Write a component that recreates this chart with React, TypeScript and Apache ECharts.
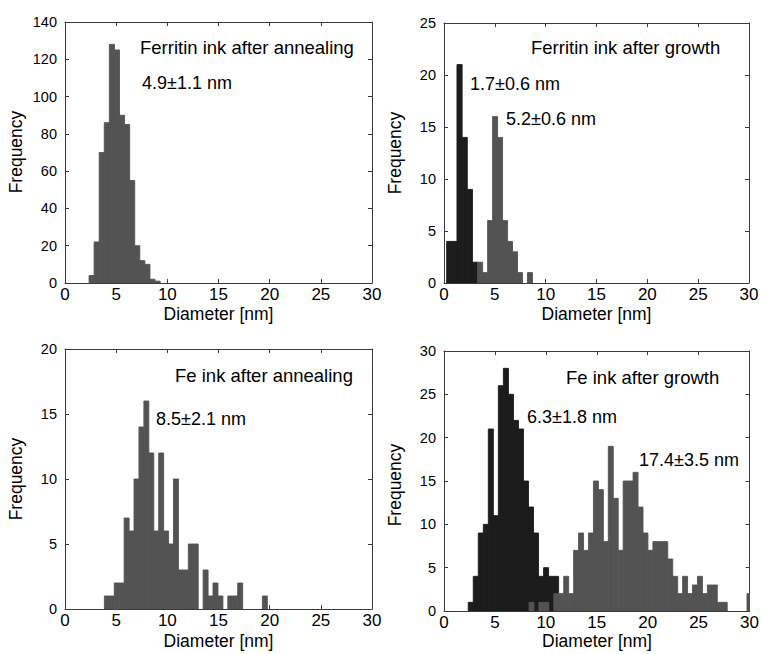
import React, { useEffect, useRef } from "react";
import * as echarts from "echarts";

// ---------- data ----------
const X_TICKS_MAX = 30;
const X_TICK_STEP = 5;

// Panel A: Ferritin ink after annealing (histogram, bin start / width / counts)
const A_START = 2.35;
const A_WIDTH = 0.496;
const A_COUNTS = [4, 22, 70, 86, 128, 125, 90, 85, 55, 20, 12, 10, 2, 1];

// Panel B: Ferritin ink after growth
const B1_START = 0.26;
const B1_WIDTH = 0.508;
const B1_COUNTS = [4, 4, 21, 14, 9, 2];
const B2_START = 3.31;
const B2_WIDTH = 0.49;
const B2_COUNTS = [2, 1, 6, 16, 14, 6, 4, 3, 1, 0, 1];

// Panel C: Fe ink after annealing
const C_START = 3.85;
const C_WIDTH = 0.4825;
const C_COUNTS = [1, 1, 2, 2, 7, 6, 10, 14, 16, 12, 6, 12, 6, 5, 10, 3, 3, 5, 5, 0, 3, 1, 2, 1, 0, 1, 1, 2, 0, 0, 0, 0, 1];

// Panel D: Fe ink after growth
const D1_START = 2.38;
const D1_WIDTH = 0.493;
const D1_COUNTS = [1, 4, 9, 10, 21, 11, 26, 28, 25, 22, 21, 15, 12, 9, 4, 5, 4, 4];
const D2_START = 8.35;
const D2_WIDTH = 0.4864;
const D2_COUNTS = [
  1, 0, 1, 1, 0, 2, 2, 4, 2, 7, 9, 7, 9, 15, 14, 8, 19, 13, 7, 15, 15, 16, 12, 9, 7,
  8, 8, 8, 6, 4, 2, 4, 2, 3, 4, 2, 3, 3, 1, 1, 0, 0, 0, 0, 2,
];

const Y_MAX = [140, 25, 20, 30];
const Y_STEP = [20, 5, 5, 5];

const TITLES = [
  "Ferritin ink after annealing",
  "Ferritin ink after growth",
  "Fe ink after annealing",
  "Fe ink after growth",
];
const STATS = ["4.9±1.1 nm", "1.7±0.6 nm", "5.2±0.6 nm", "8.5±2.1 nm", "6.3±1.8 nm", "17.4±3.5 nm"];
const X_NAME = "Diameter [nm]";
const Y_NAME = "Frequency";

// ---------- layout ----------
const FONT = "'Liberation Sans', Arial, sans-serif";
const GRIDS = [
  { left: 65, top: 22, width: 307, height: 261 },
  { left: 444, top: 23, width: 305, height: 260 },
  { left: 65, top: 349, width: 307, height: 260 },
  { left: 444, top: 351, width: 306, height: 260 },
];
const GRAY = "#535353";
const DARK = "#1c1c1c";
const FRAME = "#3a3a3a";

function bins(start: number, width: number, counts: number[]) {
  const out: number[][] = [];
  counts.forEach((c, i) => {
    if (c > 0) out.push([start + i * width, start + (i + 1) * width, c]);
  });
  return out;
}

function histSeries(idx: number, data: number[][], color: string) {
  return {
    type: "custom",
    xAxisIndex: idx * 2,
    yAxisIndex: idx * 2,
    data,
    encode: { x: [0, 1], y: 2 },
    clip: true,
    renderItem: (params: any, api: any) => {
      const p0 = api.coord([api.value(0), api.value(2)]);
      const p1 = api.coord([api.value(1), 0]);
      const cs = params.coordSys;
      const shape = echarts.graphic.clipRectByRect(
        { x: p0[0], y: p0[1], width: p1[0] - p0[0], height: p1[1] - p0[1] },
        { x: cs.x, y: cs.y, width: cs.width, height: cs.height }
      );
      if (!shape) return null;
      return {
        type: "rect",
        shape,
        style: { fill: color, stroke: color, lineWidth: 0.9 },
      };
    },
  };
}

export default function App() {
  const ref = useRef<HTMLDivElement>(null);

  useEffect(() => {
    if (!ref.current) return;
    const chart = echarts.init(ref.current, undefined, { renderer: "svg" });

    const xAxes: any[] = [];
    const yAxes: any[] = [];
    GRIDS.forEach((_, i) => {
      const line = { show: true, onZero: false, lineStyle: { color: FRAME, width: 1 } };
      const tick = { show: true, inside: true, length: 4, lineStyle: { color: FRAME, width: 1 } };
      xAxes.push({
        gridIndex: i, type: "value", min: 0, max: X_TICKS_MAX, interval: X_TICK_STEP, position: "bottom",
        axisLine: line, axisTick: tick, splitLine: { show: false },
        axisLabel: { fontSize: 17, color: "#000", margin: 3, fontFamily: FONT },
      });
      xAxes.push({
        gridIndex: i, type: "value", min: 0, max: X_TICKS_MAX, interval: X_TICK_STEP, position: "top",
        axisLine: line, axisTick: tick, splitLine: { show: false }, axisLabel: { show: false },
      });
      yAxes.push({
        gridIndex: i, type: "value", min: 0, max: Y_MAX[i], interval: Y_STEP[i], position: "left",
        axisLine: line, axisTick: tick, splitLine: { show: false },
        axisLabel: { fontSize: 14.5, color: "#000", margin: 8, fontFamily: FONT },
      });
      yAxes.push({
        gridIndex: i, type: "value", min: 0, max: Y_MAX[i], interval: Y_STEP[i], position: "right",
        axisLine: line, axisTick: tick, splitLine: { show: false }, axisLabel: { show: false },
      });
    });

    const series = [
      histSeries(0, bins(A_START, A_WIDTH, A_COUNTS), GRAY),
      histSeries(1, bins(B1_START, B1_WIDTH, B1_COUNTS), DARK),
      histSeries(1, bins(B2_START, B2_WIDTH, B2_COUNTS), GRAY),
      histSeries(2, bins(C_START, C_WIDTH, C_COUNTS), GRAY),
      histSeries(3, bins(D1_START, D1_WIDTH, D1_COUNTS), DARK),
      histSeries(3, bins(D2_START, D2_WIDTH, D2_COUNTS), GRAY),
    ];

    const txt = (x: number, y: number, text: string, size: number, align = "left") => ({
      type: "text",
      x,
      y,
      style: { text, fontSize: size, fontFamily: FONT, fill: "#000", align, verticalAlign: "middle" },
    });
    const ytxt = (x: number, y: number) => ({
      type: "text",
      x,
      y,
      rotation: Math.PI / 2,
      style: { text: Y_NAME, fontSize: 17.5, fontFamily: FONT, fill: "#000", align: "center", verticalAlign: "middle" },
    });

    const graphic = [
      txt(140, 47, TITLES[0], 18.5),
      txt(142, 82.5, STATS[0], 18),
      txt(531, 47.5, TITLES[1], 18.5),
      txt(470, 84, STATS[1], 18),
      txt(506, 118.5, STATS[2], 18),
      txt(175, 375, TITLES[2], 18.5),
      txt(156, 418.5, STATS[3], 18),
      txt(566, 377.5, TITLES[3], 18.5),
      txt(527, 417, STATS[4], 18),
      txt(639, 459.5, STATS[5], 18),
      txt(218.5, 314, X_NAME, 17.5, "center"),
      txt(596.5, 314, X_NAME, 17.5, "center"),
      txt(218.5, 641, X_NAME, 17.5, "center"),
      txt(597, 641, X_NAME, 17.5, "center"),
      ytxt(16, 152),
      ytxt(395, 153),
      ytxt(16, 479),
      ytxt(395, 485),
    ];

    chart.setOption({
      animation: false,
      backgroundColor: "#fff",
      grid: GRIDS.map((g) => ({ ...g, show: false })),
      xAxis: xAxes,
      yAxis: yAxes,
      series,
      graphic,
    });
    return () => chart.dispose();
  }, []);

  return (
    <div
      ref={ref}
      style={{ position: "fixed", left: 0, top: 0, width: 762, height: 654, background: "#fff" }}
    />
  );
}
